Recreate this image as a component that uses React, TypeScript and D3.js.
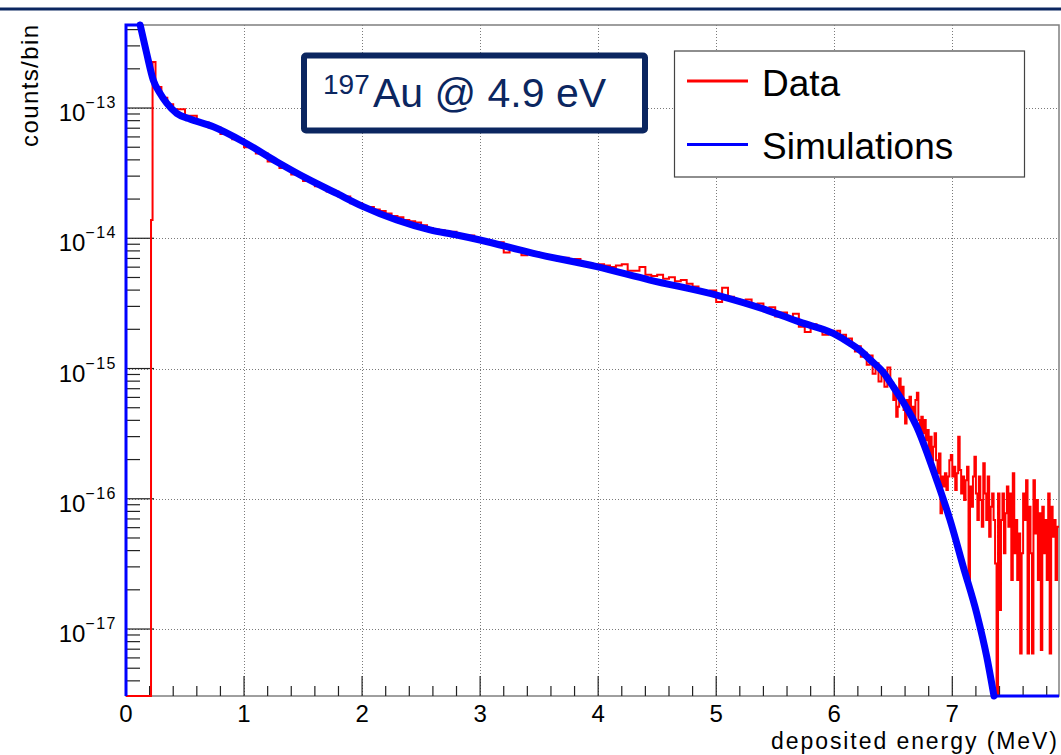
import React from "react";
import * as d3 from "d3";

// Data histogram (bin start energies in MeV, counts/bin)
const dataEnergy = [
  0, 0.212, 0.225, 0.25, 0.3, 0.35, 0.4, 0.5, 0.6, 0.7, 0.8, 0.9, 1.0, 1.1, 1.2, 1.3, 1.4, 1.5, 1.6, 1.7, 1.8, 1.9, 2.0,
  2.05, 2.1, 2.15, 2.2, 2.25, 2.3, 2.35, 2.4, 2.45, 2.5, 2.55, 2.6, 2.65, 2.7, 2.75, 2.8, 2.85, 2.9, 2.95,
  3.0, 3.05, 3.1, 3.15, 3.2, 3.25, 3.3, 3.35, 3.4, 3.45, 3.5, 3.55, 3.6, 3.65, 3.7, 3.75, 3.8, 3.85, 3.9, 3.95,
  4.0, 4.05, 4.1, 4.15, 4.2, 4.25, 4.3, 4.35, 4.4, 4.45, 4.5, 4.55, 4.6, 4.65, 4.7, 4.75, 4.8, 4.85, 4.9, 4.95,
  5.0, 5.05, 5.1, 5.15, 5.2, 5.25, 5.3, 5.35, 5.4, 5.45, 5.5, 5.55, 5.6, 5.65, 5.7, 5.75, 5.8, 5.85, 5.9, 5.95,
  6.0, 6.025, 6.05, 6.075, 6.1, 6.125, 6.15, 6.175, 6.2, 6.225, 6.25, 6.275, 6.3, 6.325, 6.35, 6.375, 6.4, 6.425, 6.45, 6.475,
  6.5, 6.5125, 6.525, 6.5375, 6.55, 6.5625, 6.575, 6.5875, 6.6, 6.6125, 6.625, 6.6375, 6.65, 6.6625, 6.675, 6.6875,
  6.7, 6.7125, 6.725, 6.7375, 6.75, 6.7625, 6.775, 6.7875, 6.8, 6.8125, 6.825, 6.8375, 6.85, 6.8625, 6.875, 6.8875,
  6.9, 6.9125, 6.925, 6.9375, 6.95, 6.9625, 6.975, 6.9875, 7.0, 7.0125, 7.025, 7.0375, 7.05, 7.0625, 7.075, 7.0875,
  7.1, 7.1125, 7.125, 7.1375, 7.15, 7.1625, 7.175, 7.1875, 7.2, 7.2125, 7.225, 7.2375, 7.25, 7.2625, 7.275, 7.2875,
  7.3, 7.3125, 7.325, 7.3375, 7.35, 7.3625, 7.375, 7.3875, 7.4, 7.4125, 7.425, 7.4375, 7.45, 7.4625, 7.475, 7.4875,
  7.5, 7.5125, 7.525, 7.5375, 7.55, 7.5625, 7.575, 7.5875, 7.6, 7.6125, 7.625, 7.6375, 7.65, 7.6625, 7.675, 7.6875,
  7.7, 7.7125, 7.725, 7.7375, 7.75, 7.7625, 7.775, 7.7875, 7.8, 7.8125, 7.825, 7.8375, 7.85, 7.8625, 7.875, 7.8875,
  7.904,
];
const dataCounts = [
  0, 1.38e-14, 2.26e-13, 1.45e-13, 1.2e-13, 1.07e-13, 9.77e-14, 8.71e-14, 7.76e-14, 7.08e-14, 6.31e-14, 5.75e-14, 5.01e-14, 4.47e-14, 3.89e-14, 3.47e-14, 3.09e-14, 2.75e-14, 2.51e-14, 2.29e-14, 2.09e-14, 1.86e-14, 1.74e-14,
  1.74e-14, 1.66e-14, 1.62e-14, 1.55e-14, 1.48e-14, 1.45e-14, 1.38e-14, 1.35e-14, 1.32e-14, 1.26e-14, 1.2e-14, 1.17e-14, 1.15e-14, 1.1e-14, 1.12e-14, 1.07e-14, 1.02e-14, 1.05e-14, 1.0e-14,
  9.55e-15, 9.55e-15, 9.33e-15, 9.33e-15, 7.76e-15, 8.51e-15, 8.32e-15, 7.41e-15, 7.94e-15, 7.76e-15, 7.24e-15, 7.24e-15, 7.08e-15, 6.76e-15, 7.08e-15, 6.76e-15, 6.92e-15, 6.46e-15, 6.46e-15, 6.31e-15,
  6.31e-15, 6.17e-15, 6.03e-15, 6.17e-15, 6.31e-15, 5.62e-15, 5.62e-15, 6.03e-15, 5.25e-15, 5.13e-15, 5.25e-15, 4.9e-15, 5.01e-15, 4.68e-15, 4.79e-15, 4.47e-15, 4.27e-15, 3.89e-15, 3.8e-15, 3.98e-15,
  3.24e-15, 4.17e-15, 3.55e-15, 3.39e-15, 3.31e-15, 3.39e-15, 3.02e-15, 3.16e-15, 2.75e-15, 2.95e-15, 2.51e-15, 2.69e-15, 2.45e-15, 2.63e-15, 2.09e-15, 1.91e-15, 2.19e-15, 2.04e-15, 1.82e-15, 1.95e-15,
  1.82e-15, 1.95e-15, 1.74e-15, 1.82e-15, 1.62e-15, 1.7e-15, 1.51e-15, 1.35e-15, 1.48e-15, 1.23e-15, 1.32e-15, 1.07e-15, 1.26e-15, 9.12e-16, 1.1e-15, 7.94e-16, 8.91e-16, 7.24e-16, 1.02e-15, 7.76e-16,
  5.73e-16, 6.84e-16, 4.27e-16, 5.09e-16, 8.4e-16, 6.07e-16, 7.24e-16, 4.8e-16, 3.79e-16, 5.73e-16, 4.52e-16, 6.07e-16, 4.02e-16, 5.09e-16, 4.27e-16, 5.73e-16,
  6.52e-16, 4.02e-16, 3.37e-16, 4.27e-16, 3.18e-16, 4.02e-16, 2.82e-16, 3.37e-16, 2.23e-16, 2.99e-16, 1.98e-16, 2.51e-16, 3.18e-16, 1.98e-16, 1.57e-16, 2.23e-16,
  7.73e-17, 1.48e-16, 1.24e-16, 1.57e-16, 1.17e-16, 1.48e-16, 1.98e-16, 2.17e-16, 1.48e-16, 1.76e-16, 1.17e-16, 1.57e-16, 2.99e-16, 1.66e-16, 1.1e-16, 1.48e-16,
  9.77e-17, 1.39e-16, 1.76e-16, 2.24e-17, 1.24e-16, 8.69e-17, 1.48e-16, 2.1e-16, 1.1e-16, 6.86e-17, 1.48e-16, 9.77e-17, 6.1e-17, 1.87e-16, 1.1e-16, 6.86e-17,
  1.48e-16, 5.11e-17, 8.69e-17, 1.1e-16, 6.86e-17, 3.19e-17, 0, 1.1e-16, 1.4e-17, 6.86e-17, 1.1e-16, 3.81e-17, 7.73e-17, 1.24e-16, 6.1e-17, 1.1e-16,
  2.38e-17, 1.57e-16, 3.81e-17, 6.86e-17, 2.38e-17, 5.42e-17, 6.5e-18, 3.81e-17, 1.1e-16, 6.86e-17, 1.39e-16, 6.5e-18, 8.69e-17, 3.81e-17, 6.5e-18, 1.39e-16,
  5.42e-17, 9.77e-17, 2.38e-17, 7.73e-17, 6.89e-18, 8.69e-17, 3.81e-17, 6.86e-17, 2.38e-17, 1.1e-16, 6.5e-18, 8.69e-17, 5.11e-17, 6.86e-17, 2.38e-17, 6.1e-17,
  6.1e-17,
];

// Simulation curve (energy MeV, counts/bin)
const simEnergy = [
  0, 0, 0.12, 0.175, 0.231, 0.288, 0.345, 0.43, 0.53, 0.74, 0.994, 1.277, 1.531, 1.785, 2.01, 2.293, 2.575, 2.802, 2.999,
  3.451, 3.988, 4.439, 5.004, 5.428, 5.71, 5.992, 6.134, 6.218, 6.303, 6.416, 6.5, 6.699, 6.868, 6.981, 7.093, 7.207,
  7.292, 7.353, 7.36, 7.904,
];
const simCounts = [
  0, 1e-11, 4.4e-13, 2.63e-13, 1.64e-13, 1.3e-13, 1.09e-13, 9.1e-14, 8.3e-14, 7.18e-14, 5.51e-14, 3.87e-14, 2.88e-14, 2.21e-14, 1.75e-14, 1.38e-14, 1.16e-14, 1.06e-14, 9.7e-15,
  7.66e-15, 6.05e-15, 4.78e-15, 3.66e-15, 2.81e-15, 2.27e-15, 1.86e-15, 1.56e-15, 1.38e-15, 1.17e-15, 9.33e-16, 7.24e-16, 3.57e-16, 1.39e-16, 6.87e-17, 3.01e-17, 1.32e-17,
  6.12e-18, 3.0e-18, 0, 0,
];

const xTickValues = [0, 1, 2, 3, 4, 5, 6, 7];
const xTickLabels = ["0", "1", "2", "3", "4", "5", "6", "7"];
const yTickValues = [1e-17, 1e-16, 1e-15, 1e-14, 1e-13];
const yTickExponents = ["\u221217", "\u221216", "\u221215", "\u221214", "\u221213"];
const legendLabels = ["Data", "Simulations"];
const seriesColors = ["#ff0000", "#0000ff"];
const xTitle = "deposited energy (MeV)";
const yTitle = "counts/bin";

const FONT = "'Liberation Sans', Arial, Helvetica, sans-serif";
const NAVY = "#0b2660";

export default function App() {
  const W = 1061, H = 755;
  const left = 126, right = 1059, top = 25, bottom = 696;
  const xMax = 7.904;
  const x = d3.scaleLinear().domain([0, xMax]).range([left, right]);
  const y = d3.scaleLog().domain([3.06e-18, 4.34e-13]).range([bottom, top]).clamp(true);

  const redPts: [number, number][] = dataEnergy.map((e, i) => [e, dataCounts[i]]);
  const redPath = d3.line<[number, number]>().x(d => x(d[0])).y(d => y(d[1])).curve(d3.curveStepAfter)(redPts) || "";

  const simPts: [number, number][] = simEnergy.map((e, i) => [e, simCounts[i]]);
  const simEdgePath = d3.line<[number, number]>().x(d => x(d[0])).y(d => y(d[1]))(simPts) || "";
  const curvePts = simPts.slice(2, simPts.length - 2);
  const simCurvePath = d3.line<[number, number]>().x(d => x(d[0])).y(d => y(d[1])).curve(d3.curveMonotoneX)(curvePts) || "";

  const xMinor: number[] = [];
  for (let i = 1; i * 0.2 <= xMax; i++) {
    if (i % 5 !== 0) xMinor.push(i * 0.2);
  }
  const yMinor: number[] = [];
  for (let dExp = -18; dExp <= -13; dExp++) {
    for (let m = 2; m <= 9; m++) {
      const v = m * Math.pow(10, dExp);
      if (v > 3.06e-18 && v < 4.34e-13) yMinor.push(v);
    }
  }

  return (
    <svg width={W} height={H} style={{ position: "absolute", left: 0, top: 0, background: "#fff" }} fontFamily={FONT}>
      <rect x={0} y={0} width={W} height={H} fill="#fff" />
      <rect x={0} y={7.5} width={W} height={3} fill={NAVY} />

      {/* grid */}
      <g stroke="#7a7a7a" strokeWidth={1} strokeDasharray="1,2">
        {xTickValues.filter(v => v > 0).map(v => (
          <line key={"gx" + v} x1={Math.round(x(v)) + 0.5} x2={Math.round(x(v)) + 0.5} y1={top} y2={bottom} />
        ))}
        {yTickValues.map(v => (
          <line key={"gy" + v} x1={left} x2={right} y1={Math.round(y(v)) + 0.5} y2={Math.round(y(v)) + 0.5} />
        ))}
      </g>

      {/* frame */}
      <rect x={left} y={top} width={right - left} height={bottom - top} fill="none" stroke="#7f7f7f" strokeWidth={1.5} />

      {/* ticks */}
      <g stroke="#222" strokeWidth={1.2}>
        {xTickValues.map(v => (
          <line key={"tx" + v} x1={x(v)} x2={x(v)} y1={bottom} y2={bottom - 20} />
        ))}
        {xMinor.map(v => (
          <line key={"mx" + v} x1={x(v)} x2={x(v)} y1={bottom} y2={bottom - 10} />
        ))}
        {yTickValues.map(v => (
          <line key={"ty" + v} x1={left} x2={left + 28} y1={y(v)} y2={y(v)} />
        ))}
        {yMinor.map(v => (
          <line key={"my" + v} x1={left} x2={left + 14} y1={y(v)} y2={y(v)} />
        ))}
      </g>

      {/* tick labels */}
      <g fontSize={24} fill="#000">
        {xTickValues.map((v, i) => (
          <text key={"lx" + v} x={x(v)} y={722} textAnchor="middle">{xTickLabels[i]}</text>
        ))}
        {yTickValues.map((v, i) => (
          <text key={"ly" + v} x={117} y={y(v) + 13} textAnchor="end">
            <tspan>10</tspan>
            <tspan dy={-13} fontSize={16} letterSpacing={1.5}>{yTickExponents[i]}</tspan>
          </text>
        ))}
      </g>

      {/* axis titles */}
      <text x={1057} y={749} textAnchor="end" fontSize={23} textLength={286} lengthAdjust="spacing">{xTitle}</text>
      <text transform={`translate(38,${top}) rotate(-90)`} textAnchor="end" fontSize={24} textLength={122} lengthAdjust="spacing">{yTitle}</text>

      {/* series */}
      <path d={redPath} fill="none" stroke={seriesColors[0]} strokeWidth={2} />
      <path d={simEdgePath} fill="none" stroke={seriesColors[1]} strokeWidth={3} />
      <path d={simCurvePath} fill="none" stroke={seriesColors[1]} strokeWidth={7} strokeLinecap="round" />

      {/* label box */}
      <rect x={304} y={55.5} width={341} height={75} rx={2} fill="#fff" stroke={NAVY} strokeWidth={6} />
      <text fill={NAVY}>
        <tspan x={323} y={93.5} fontSize={28}>197</tspan>
        <tspan x={373} y={106.7} fontSize={41}>Au @ 4.9 eV</tspan>
      </text>

      {/* legend */}
      <rect x={674.5} y={51} width={350} height={126} fill="#fff" stroke="#444" strokeWidth={1.2} />
      {legendLabels.map((lab, i) => (
        <g key={lab}>
          <line x1={687} x2={748} y1={81 + i * 63.5} y2={81 + i * 63.5} stroke={seriesColors[i]} strokeWidth={3} />
          <text x={762} y={95.5 + i * 63} fontSize={37} fill="#000">{lab}</text>
        </g>
      ))}
    </svg>
  );
}
